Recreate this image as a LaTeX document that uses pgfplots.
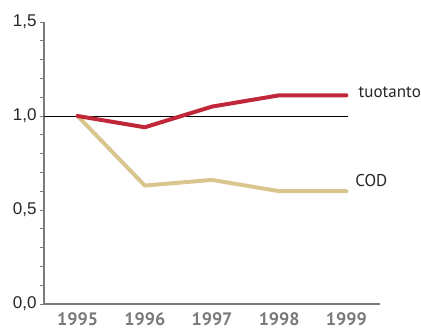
\documentclass[border=0pt]{standalone}
\usepackage{fontspec}
\setmainfont{Liberation Sans}
\newfontfamily\ptsans{PT Sans}
\usepackage{pgfplots}
\pgfplotsset{compat=1.18}
\definecolor{cred}{HTML}{C0283A}
\definecolor{ctan}{HTML}{D9C68F}
\definecolor{cgray}{HTML}{7A7A7A}
\begin{document}
\begin{tikzpicture}[x=1pt,y=1pt]
\path[use as bounding box] (0,0) rectangle (421,329);
\begin{axis}[
  at={(44pt,25pt)}, anchor=south west, scale only axis,
  width=336pt, height=282pt,
  xmin=1994.5, xmax=1999.5, ymin=0, ymax=1.5,
  axis x line=bottom, axis y line=left,
  axis line style={-},
  x axis line style={cgray, line width=2pt},
  y axis line style={cgray, line width=1.3pt},
  xtick={1995,1996,1997,1998,1999},
  xticklabels={1995,1996,1997,1998,1999},
  major x tick style={draw=none},
  xticklabel style={font=\ptsans\fontsize{18}{21}\selectfont\bfseries, text=cgray, yshift=-1pt},
  ytick={0,0.5,1,1.5},
  yticklabels={{0,0},{0,5},{1,0},{1,5}},
  minor y tick num=4,
  tick align=outside,
  major tick length=4pt, minor tick length=4pt,
  y tick style={cgray, line width=0.9pt},
  yticklabel style={font=\fontsize{17}{20}\selectfont, text=black!85},
  clip=false,
]
\addplot[black, line width=0.8pt] coordinates {(1994.5,1) (1999.03,1)};
\addplot[ctan, line width=4pt, line cap=round, line join=round] coordinates {
  (1995,1.00) (1996,0.63) (1997,0.66) (1998,0.60) (1999,0.60)};
\addplot[cred, line width=4pt, line cap=round, line join=round] coordinates {
  (1995,1.00) (1996,0.94) (1997,1.05) (1998,1.11) (1999,1.11)};
\node[anchor=west, font=\ptsans\fontsize{17}{20}\selectfont, text=black!85] at (axis cs:1999.13,1.125) {tuotanto};
\node[anchor=west, font=\ptsans\fontsize{17}{20}\selectfont, text=black!85] at (axis cs:1999.08,0.655) {COD};
\end{axis}
\end{tikzpicture}
\end{document}
